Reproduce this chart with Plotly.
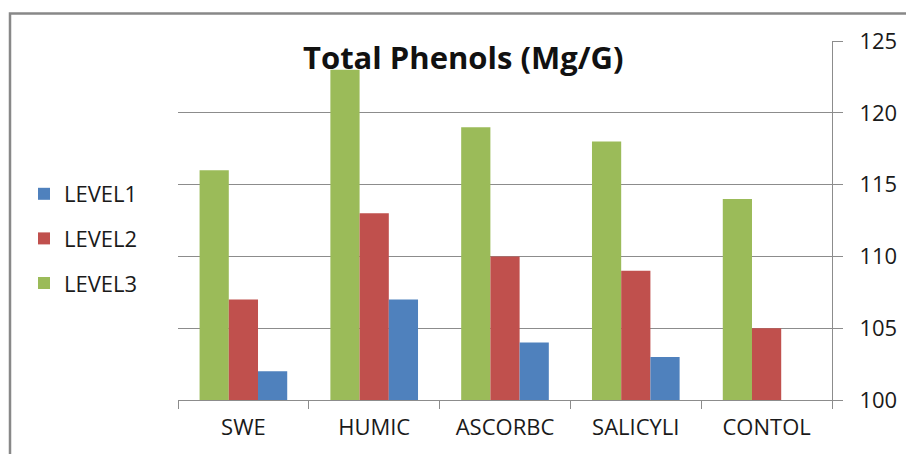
import plotly.graph_objects as go

categories = ["SWE", "HUMIC", "ASCORBC", "SALICYLI", "CONTOL"]
level1 = [102, 107, 104, 103, 100]
level2 = [107, 113, 110, 109, 105]
level3 = [116, 123, 119, 118, 114]
y_ticks = [100, 105, 110, 115, 120, 125]

W, H = 906, 454
L, R, T, B = 178, 74, 41, 54
pw, ph = W - L - R, H - T - B

def px_x(x):
    return (x - L) / pw

def px_y(y):
    return (H - B - y) / ph

fig = go.Figure()
for name, vals, col, rank in [("LEVEL3", level3, "#9BBB59", 3),
                              ("LEVEL2", level2, "#C0504D", 2),
                              ("LEVEL1", level1, "#4F81BD", 1)]:
    fig.add_trace(go.Bar(x=categories, y=vals, name=name, legendgroup=name,
                         legendrank=rank,
                         marker=dict(color=col, line=dict(width=0))))

grid = "#8c8c8c"
FONT = "Open Sans, Lato, sans-serif"
fig.update_layout(
    width=W, height=H,
    margin=dict(l=L, r=R, t=T, b=B, autoexpand=False),
    paper_bgcolor="white", plot_bgcolor="white",
    barmode="group", bargap=0.33, bargroupgap=0,
    font=dict(family=FONT, color="#1a1a1a"),
    showlegend=True,
    legend=dict(x=px_x(24), y=px_y(173), xanchor="left", yanchor="top",
                traceorder="grouped", tracegroupgap=13,
                font=dict(size=22, color="#1a1a1a"), itemwidth=30),
    xaxis=dict(showgrid=False, showline=True, linecolor=grid, linewidth=1,
               ticks="outside", tickson="boundaries", ticklen=8, tickcolor=grid,
               ticklabelstandoff=8, tickfont=dict(size=22), automargin=False),
    yaxis=dict(side="right", range=[100, 125], tickvals=y_ticks,
               showgrid=True, gridcolor=grid, gridwidth=1,
               showline=True, linecolor=grid, linewidth=1,
               ticks="outside", ticklen=10, tickcolor=grid,
               ticklabelstandoff=12, tickfont=dict(size=22), zeroline=False,
               automargin=False),
    annotations=[dict(text="<b>Total Phenols (Mg/G)</b>", x=px_x(463), y=px_y(57),
                      xref="paper", yref="paper", showarrow=False,
                      font=dict(size=31, color="#111"), xanchor="center", yanchor="middle")],
    shapes=[dict(type="rect", xref="paper", yref="paper",
                 x0=px_x(10), x1=px_x(960), y0=px_y(13.5), y1=px_y(520),
                 line=dict(color="#888888", width=2.5), layer="below")],
)

fig.write_html("out.html", config={"displayModeBar": False},
               post_script="document.body.style.margin='0';document.body.style.padding='0';")
